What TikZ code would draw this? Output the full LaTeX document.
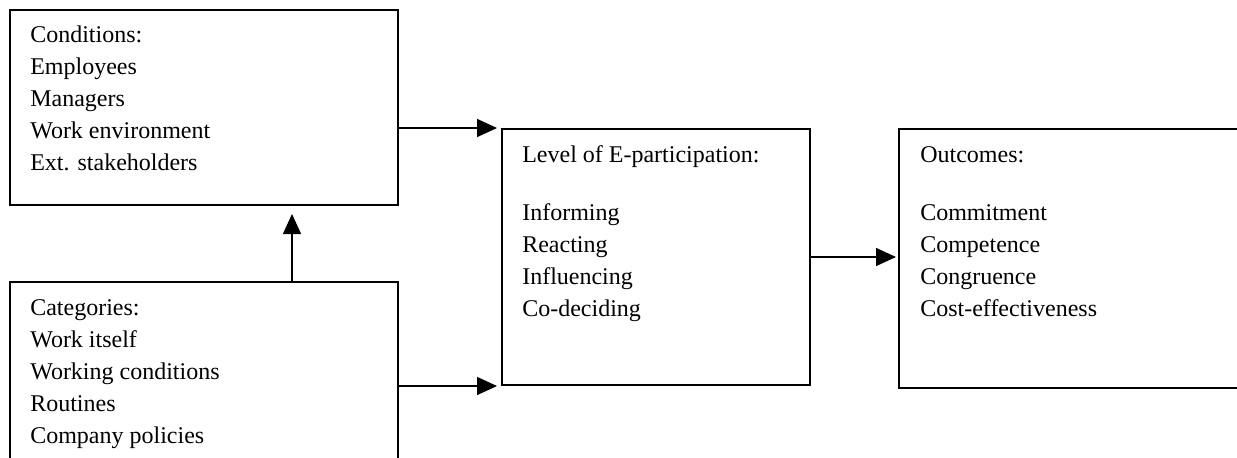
\documentclass[tikz,border=0pt]{standalone}
\usepackage{fontspec}
\setmainfont{Liberation Serif}
\usetikzlibrary{arrows.meta}
\begin{document}
\begin{tikzpicture}[x=0.75pt,y=-0.75pt,
  box/.style={draw, line width=1.5pt, rectangle, inner sep=0pt},
  txt/.style={inner sep=0pt, align=left, anchor=base west, font=\fontsize{18}{24}\selectfont},
  arr/.style={line width=1.1pt, -{Triangle[length=15pt,width=13.5pt]}}]
\useasboundingbox (0,0) rectangle (1237,457);
\clip (0,0) rectangle (1237,457);
\fill[white] (0,0) rectangle (1237,457);
\node[box, minimum width=291pt, minimum height=146.25pt] (cond) at (204,107.5) {};
\node[box, minimum width=291pt, minimum height=144.75pt] (cat) at (204,378.5) {};
\node[box, minimum width=231pt, minimum height=192pt] (mid) at (656,257) {};
\node[box, minimum width=270.75pt, minimum height=194.25pt] (out) at (1079.5,258.5) {};
\node[txt] (condt) at (30,170.5) {Conditions:\\Employees\\Managers\\Work environment\\Ext. stakeholders};
\node[txt] (catt) at (30,443) {Categories:\\Work itself\\Working conditions\\Routines\\Company policies};
\node[txt] (midt) at (522,316.5) {Level of E-participation:\\[19.5pt]Informing\\Reacting\\Influencing\\Co-deciding};
\node[txt] (outt) at (920,316.5) {Outcomes:\\[19.5pt]Commitment\\Competence\\Congruence\\Cost-effectiveness};
\draw[arr] (cond.east |- mid.north west) -- ([xshift=-3pt]mid.north west);
\draw[arr] (cat.east |- mid.south west) -- ([xshift=-3pt]mid.south west);
\draw[arr] ([xshift=66pt]cat.north) -- ([xshift=66pt,yshift=-6pt]cond.south);
\draw[arr, shorten >=1.5pt] (mid.east) -- (mid.east -| out.west);
\end{tikzpicture}
\end{document}
